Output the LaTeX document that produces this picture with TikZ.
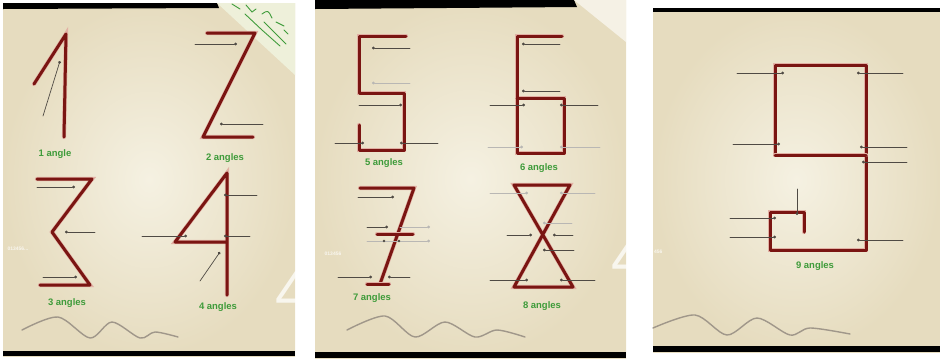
\documentclass[tikz,border=0pt]{standalone}
\usepackage{fontspec}
\setmainfont{Liberation Sans}
\definecolor{digitred}{HTML}{7A1512}
\definecolor{digitglow}{HTML}{E2B0A4}
\definecolor{paperdark}{HTML}{E6DCBF}
\definecolor{paperlight}{HTML}{F5F1E2}
\definecolor{labelgreen}{HTML}{3E9B3A}
\definecolor{pointergray}{HTML}{4F4A44}
\definecolor{wavegray}{HTML}{A0978A}
\definecolor{foldpaper}{HTML}{EEF0DA}
\usetikzlibrary{arrows.meta}

\begin{document}
\begin{tikzpicture}[x=1bp,y=-1bp,line cap=round,
  digitline/.style={draw=digitred,line width=3bp,line join=round,preaction={draw=digitglow,line width=4.2bp}},
  pointer/.style={draw=pointergray,line width=0.7bp,-{Circle[length=2.8bp]}},
  faint/.style={pointer,draw=pointergray!40},
  tag/.style={text=labelgreen,font=\bfseries\fontsize{9.5}{11}\selectfont,inner sep=0pt},
  wave/.style={draw=wavegray,line width=1.4bp},
  ghost/.style={text=white,opacity=.75,inner sep=0pt}]
\useasboundingbox (0,0) rectangle (940,358);

% paper panels
\shade[inner color=paperlight,outer color=paperdark] (3,3) rectangle (295,356);
\shade[inner color=paperlight,outer color=paperdark] (315,0) rectangle (626,358);
\shade[inner color=paperlight,outer color=paperdark] (653,8) rectangle (940,352);
\fill[black] (3,3) -- (217,3) -- (219,8) -- (3,9) -- cycle;
\fill[black] (3,351) rectangle (295,356);
\fill[black] (315,0) -- (574,0) -- (577,7) -- (315,9) -- cycle;
\fill[black] (315,352) rectangle (626,358);
\fill[black] (653,8) rectangle (940,12);
\fill[black] (653,346) rectangle (940,352);

% folded corners
\fill[foldpaper] (217,3) -- (295,3) -- (295,75) -- cycle;
\draw[labelgreen,line width=0.9bp] (232,4) -- (240,9) (246,5) -- (252,12) -- (256,9)
  (262,14) .. controls (268,10) .. (272,18) (276,22) -- (284,26) (245,14) -- (262,30) -- (280,46)
  (264,22) -- (286,44) (284,30) -- (288,34);
\fill[white,opacity=.6] (574,0) -- (626,0) -- (626,42) -- cycle;

% ghost overlay text
\begin{scope}
\clip (3,3) rectangle (295,356);
\node[ghost,font=\fontsize{60}{60}\selectfont] (bigfourA) at (292,292) {4};
\node[ghost,font=\fontsize{5}{6}\selectfont\bfseries] (countA) at (18,249) {013456...};
\end{scope}
\begin{scope}
\clip (315,0) rectangle (626,358);
\node[ghost,font=\fontsize{60}{60}\selectfont,anchor=west] (bigfourB) at (611,258) {4};
\node[ghost,font=\fontsize{5}{6}\selectfont\bfseries] (countB) at (333,254) {013456};
\end{scope}
\node[ghost,font=\fontsize{5}{6}\selectfont\bfseries,anchor=west] (countC) at (654,252) {456};

% 1
\draw[digitline] (34,84) -- (66,34) -- (64,137);
\draw[pointer] (43,116) -- (60,61);
\node[tag] (one) at (55,154) {1 angle};

% 2
\draw[digitline] (207,33) -- (255,33) -- (203,137) -- (253,137);
\draw[pointer] (195,44) -- (237,44);
\draw[pointer] (263,124) -- (220,124);
\node[tag] (two) at (225,158) {2 angles};

% 3
\draw[digitline] (37,179) -- (92,179) -- (52,232) -- (90,285) -- (40,285);
\draw[pointer] (37,187) -- (75,187);
\draw[pointer] (95,232) -- (65,232);
\draw[pointer] (43,277) -- (77,277);
\node[tag] (three) at (67,303) {3 angles};

% 4
\draw[digitline] (227,295) -- (227,173) -- (175,242) -- (227,242);
\draw[pointer] (257,195) -- (224,195);
\draw[pointer] (142,236) -- (187,236);
\draw[pointer] (250,236) -- (224,236);
\draw[pointer] (200,281) -- (220,252);
\node[tag] (four) at (218,307) {4 angles};
\draw[wave] plot[smooth] coordinates {(22,330) (58,317) (90,338) (112,322) (140,338) (155,332) (178,337)};

% 5
\draw[digitline] (406,36) -- (359,36) -- (359,93) -- (404,93) -- (404,150) -- (359,150) -- (359,125);
\draw[pointer] (410,48) -- (372,48);
\draw[faint] (410,83) -- (372,83);
\draw[pointer] (359,105) -- (402,105);
\draw[pointer] (335,143) -- (364,143);
\draw[pointer] (438,143) -- (400,143);
\node[tag] (five) at (384,163) {5 angles};

% 6
\draw[digitline] (562,36) -- (517,36) -- (517,153) -- (564,153) -- (564,98) -- (517,98);
\draw[pointer] (560,44) -- (522,44);
\draw[pointer] (560,91) -- (522,91);
\draw[pointer] (490,105) -- (525,105);
\draw[pointer] (598,105) -- (560,105);
\draw[faint] (488,147) -- (523,147);
\draw[faint] (600,147) -- (560,147);
\node[tag] (six) at (539,168) {6 angles};

% 7
\draw[digitline] (360,188) -- (414,188) -- (380,284);
\draw[digitline] (367,284) -- (389,284);
\draw[digitline] (377,234) -- (413,234);
\draw[pointer] (358,197) -- (394,197);
\draw[pointer] (367,227) -- (388,227);
\draw[faint] (400,227) -- (430,227);
\draw[faint] (367,241) -- (430,241);
\fill[pointergray] (384,241) circle (1.4bp) (399,241) circle (1.4bp);
\draw[pointer] (338,277) -- (372,277);
\draw[pointer] (410,277) -- (388,277);
\node[tag] (seven) at (372,298) {7 angles};
\draw[wave] plot[smooth] coordinates {(347,330) (385,316) (415,337) (445,322) (475,337) (497,330) (525,337)};

% 8
\draw[digitline] (514,185) -- (570,185) -- (514,287) -- (573,287) -- cycle;
\draw[faint] (490,193) -- (528,193);
\draw[faint] (595,193) -- (560,193);
\draw[faint] (572,223) -- (543,223);
\draw[pointer] (507,235) -- (532,235);
\draw[pointer] (573,235) -- (553,235);
\draw[pointer] (574,250) -- (543,250);
\draw[pointer] (490,280) -- (528,280);
\draw[pointer] (595,280) -- (560,280);
\node[tag] (eight) at (542,306) {8 angles};

% 9
\draw[digitline] (775,155) -- (775,65) -- (866,65) -- (866,250) -- (770,250) -- (770,212) -- (804,212) -- (804,232);
\draw[digitline] (775,155) -- (866,155);
\draw[pointer] (737,73) -- (784,73);
\draw[pointer] (903,73) -- (857,73);
\draw[pointer] (733,144) -- (780,144);
\draw[pointer] (907,147) -- (860,147);
\draw[pointer] (907,162) -- (862,162);
\draw[pointer] (797,189) -- (797,215);
\draw[pointer] (730,218) -- (776,218);
\draw[pointer] (730,237) -- (776,237);
\draw[pointer] (903,240) -- (857,240);
\node[tag] (nine) at (815,266) {9 angles};
\draw[wave] plot[smooth] coordinates {(653,328) (695,315) (727,335) (757,318) (790,335) (810,328) (850,334)};
\end{tikzpicture}
\end{document}
